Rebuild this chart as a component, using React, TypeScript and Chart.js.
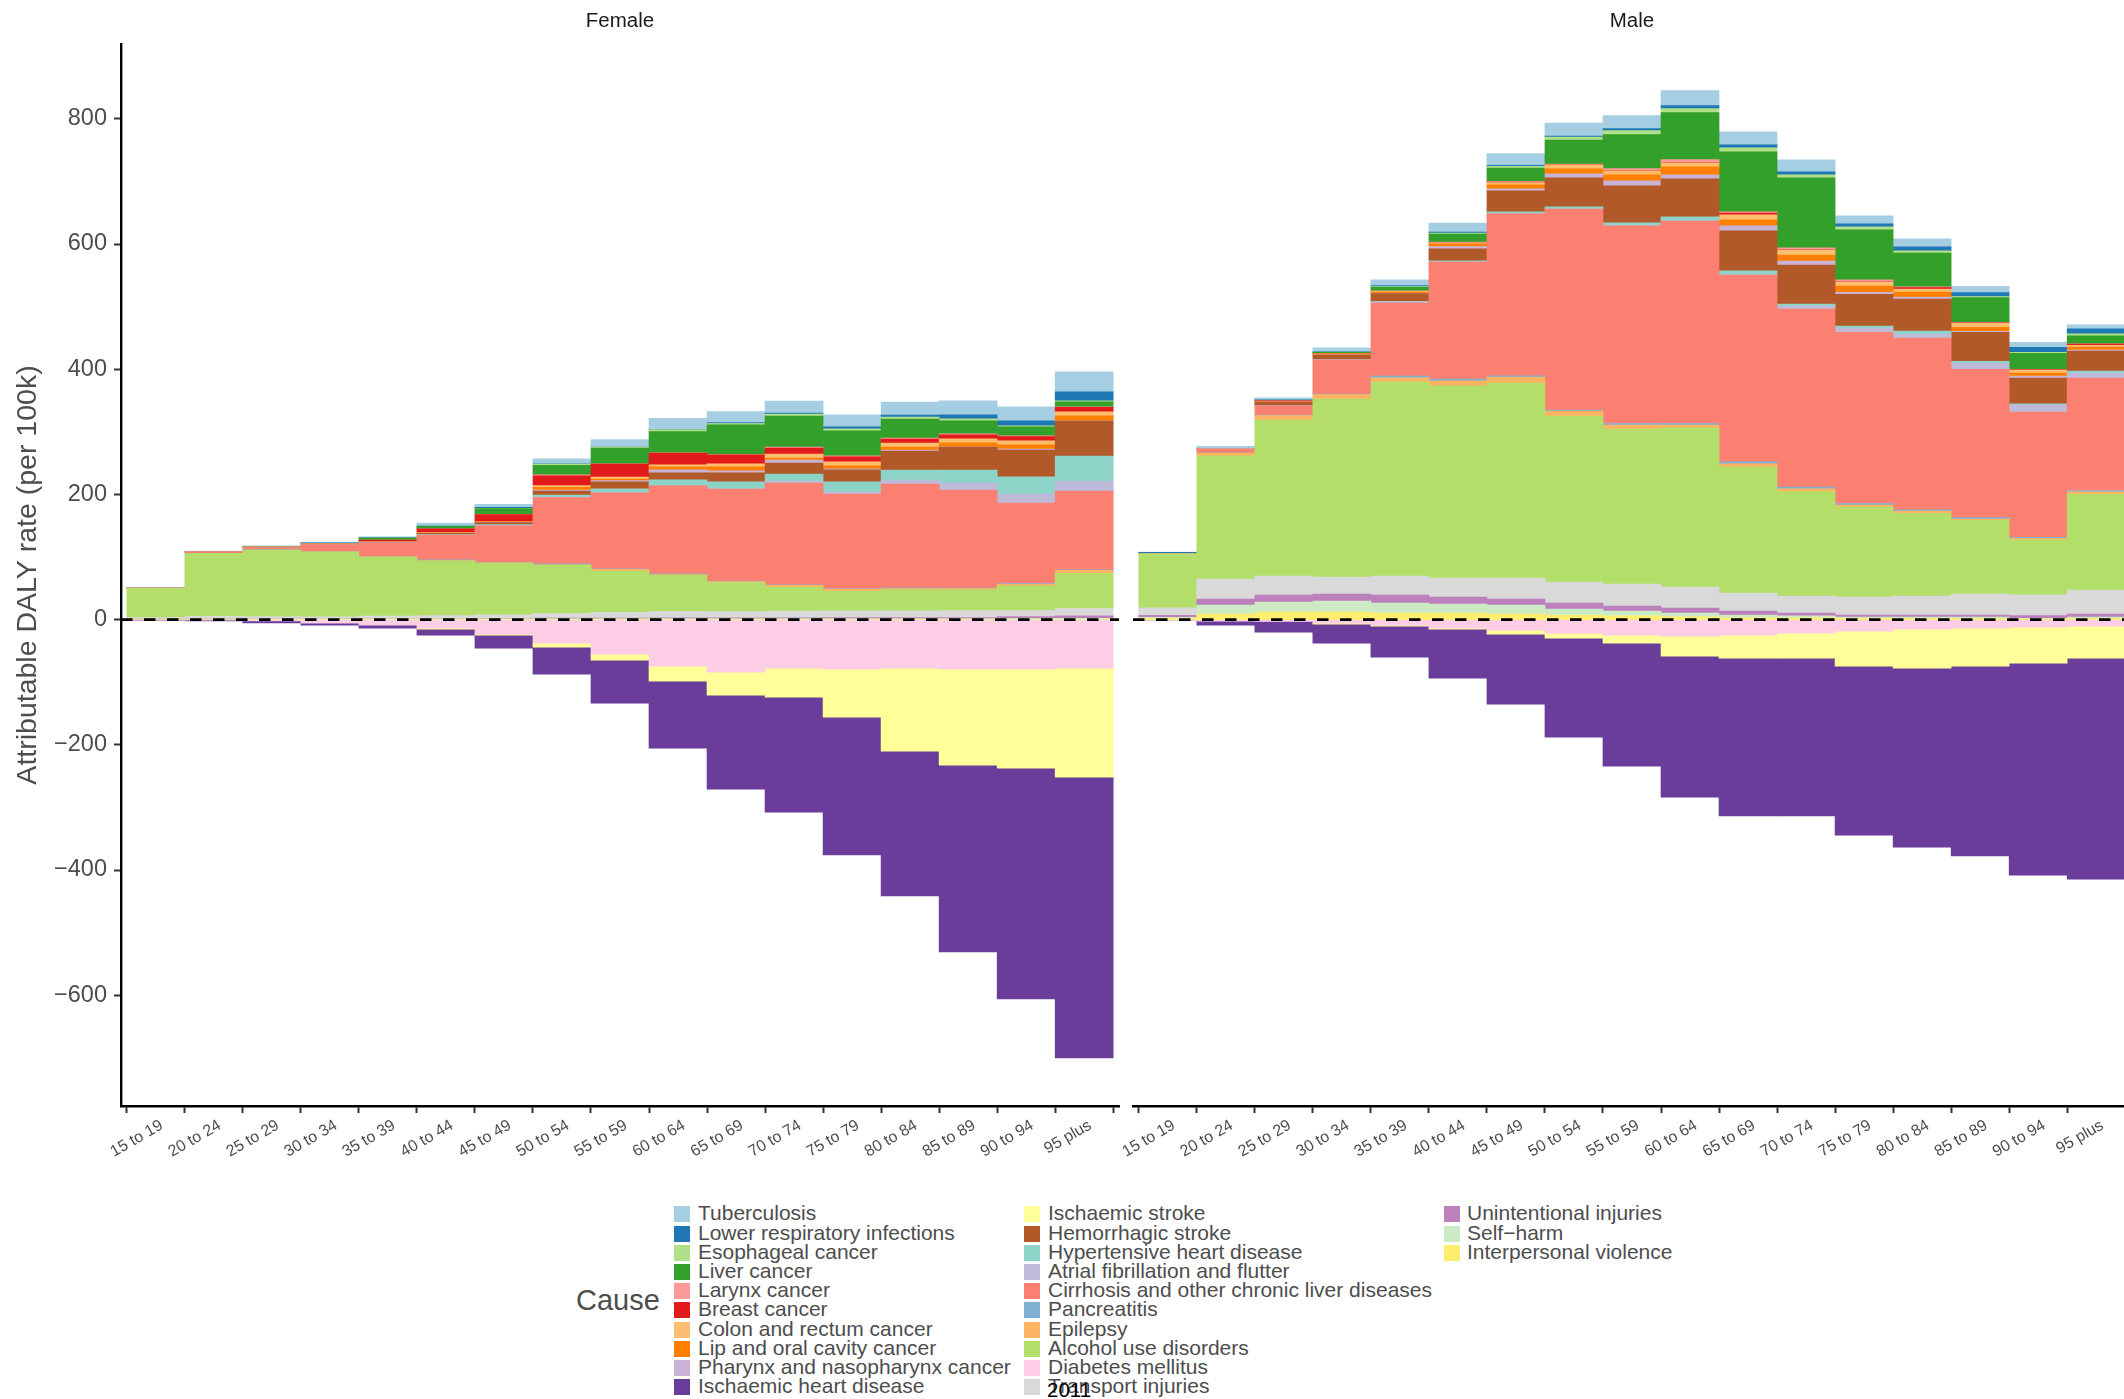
import React, { useEffect, useRef } from "react";
import { Chart, registerables } from "chart.js";

Chart.register(...registerables);

const FONT = "'Liberation Sans', Arial, Helvetica, sans-serif";

const ageGroups = [
  "15 to 19", "20 to 24", "25 to 29", "30 to 34", "35 to 39", "40 to 44", "45 to 49", "50 to 54",
  "55 to 59", "60 to 64", "65 to 69", "70 to 74", "75 to 79", "80 to 84", "85 to 89", "90 to 94", "95 plus",
];

const causes = [
  "Tuberculosis", "Lower respiratory infections", "Esophageal cancer", "Liver cancer", "Larynx cancer",
  "Breast cancer", "Colon and rectum cancer", "Lip and oral cavity cancer", "Pharynx and nasopharynx cancer",
  "Ischaemic heart disease", "Ischaemic stroke", "Hemorrhagic stroke", "Hypertensive heart disease",
  "Atrial fibrillation and flutter", "Cirrhosis and other chronic liver diseases", "Pancreatitis", "Epilepsy",
  "Alcohol use disorders", "Diabetes mellitus", "Transport injuries", "Unintentional injuries", "Self\u2212harm",
  "Interpersonal violence",
];

const causeColors = [
  "#A6CEE3", "#1F78B4", "#B2DF8A", "#33A02C", "#FB9A99", "#E31A1C", "#FDBF6F", "#FF7F00", "#CAB2D6",
  "#6A3D9A", "#FFFF99", "#B15928", "#8DD3C7", "#BEBADA", "#FB8072", "#80B1D3", "#FDB462", "#B3DE69",
  "#FCCDE5", "#D9D9D9", "#BC80BD", "#CCEBC5", "#FFED6F",
];

const yTickValues = [-600, -400, -200, 0, 200, 400, 600, 800];
const yRange = [-777, 919.5];

// ---------------- Female ----------------
const femaleTuberculosis = [0.8, 0.5, 1, 1.5, 1.5, 4.3, 4.8, 8, 11.7, 17.5, 17.6, 19.2, 19.2, 20.8, 22.4, 22.4, 32];
const femaleLowerRespiratory = [0, 0.2, 0.3, 0.5, 0.5, 0.5, 1.6, 0.3, 0.3, 0.5, 1.6, 1.6, 3.2, 3.2, 6.4, 8, 14.4];
const femaleEsophageal = [0, 0, 0, 0, 0, 0.3, 0.5, 2, 1.5, 3, 2, 3.2, 3.2, 3.2, 3.2, 1.6, 1.6];
const femaleLiverCancer = [0, 0, 0.2, 0.5, 3.2, 3.7, 9, 15.4, 25, 33.8, 47.5, 49.5, 40, 30.3, 20.8, 14.4, 8];
const femaleLarynx = [0, 0, 0, 0, 0, 0.3, 0.5, 1.6, 0.5, 0.5, 0.5, 1.6, 1.6, 1.6, 1.6, 1, 1];
const femaleBreast = [0, 0, 0.2, 0.5, 3.2, 6, 11.2, 15.5, 20.8, 19, 14.3, 9.6, 8, 6.4, 6.4, 7, 7];
const femaleColon = [0, 0, 0, 0, 0, 0.3, 0.5, 2.7, 3, 3.2, 4.8, 6.4, 6.4, 6.4, 6.4, 6.4, 6.4];
const femaleLipOral = [0, 0, 0, 0, 0, 0.3, 0.5, 4.3, 2.7, 4.8, 6.4, 3.2, 4.8, 4.8, 6.4, 6.4, 8];
const femalePharynx = [0, 0, 0, 0, 0, 0.3, 0.5, 1.6, 2, 4.8, 3.2, 4.8, 1.6, 1.6, 0.3, 1.6, 0.5];
const femaleIHD = [-1.2, -1.8, -3.2, -3.3, -4.8, -9.6, -20.7, -43.1, -68.7, -107, -150.1, -183.7, -220.4, -231.6, -298.6, -368.9, -448.4];
const femaleIschaemicStroke = [0, 0, 0, 0, 0, -1.6, -1.6, -6.4, -9.6, -23.9, -36.8, -46.3, -76.6, -132.5, -153.3, -158.1, -174.1];
const femaleHemorrhagic = [0, 0.3, 1.5, 1, 1, 2, 3.2, 6.4, 11, 11.2, 14.4, 17.6, 19.2, 30.3, 36.7, 43.1, 55.9];
const femaleHypertensive = [0, 0, 0, 0, 0.3, 1, 1.5, 3.7, 6, 9, 11.2, 11.2, 16, 16, 20.8, 27.2, 40.4];
const femaleAtrialFib = [0, 0, 0, 0, 0, 0, 0.5, 0.3, 0.3, 0.5, 0.5, 3.2, 3.2, 6.4, 11.2, 14.4, 15.5];
const femaleCirrhosis = [0.5, 2.5, 3.5, 11.2, 22.1, 39.7, 58.3, 106.1, 121.4, 140.3, 146.8, 162.3, 151.4, 165.8, 156.4, 128.6, 125.5];
const femalePancreatitis = [0.2, 0.3, 0.3, 0.5, 0.5, 1, 0.8, 1.5, 0.8, 1.5, 0.8, 0.8, 0.8, 1, 0.8, 1.2, 1];
const femaleEpilepsy = [0, 0, 0, 0, 0.3, 0.3, 0.5, 0.5, 3, 0.8, 1.5, 3, 3, 2, 2, 2.5, 5];
const femaleAlcoholUse = [46.5, 100.5, 106.3, 103.7, 94.2, 87.7, 82.6, 77.2, 65.9, 57.7, 46.5, 38.1, 31.4, 33.4, 33.2, 39.6, 56];
const femaleDiabetes = [-0.3, -0.5, -2, -5.5, -8.8, -13.6, -23.2, -37.5, -55.1, -74.3, -83.8, -77.5, -79.1, -77.5, -79.1, -79.1, -77.5];
const femaleTransport = [2, 3.5, 3, 3, 4, 4.5, 5.5, 7.5, 9, 10.5, 10, 11, 11, 11, 11, 9.5, 11.5];
const femaleUnintentional = [0.3, 0.3, 0.3, 0.3, 0.3, 0.5, 0.8, 1, 1.2, 1.5, 1.5, 1.5, 1.8, 1.8, 2, 3.2, 4.2];
const femaleSelfHarm = [0.5, 0.8, 0.8, 0.7, 0.7, 0.7, 0.7, 0.7, 0.7, 0.7, 0.7, 0.7, 0.7, 0.8, 0.8, 1, 1.2];
const femaleInterpersonal = [0.5, 0.6, 0.6, 0.6, 0.6, 0.6, 0.6, 0.6, 0.6, 0.6, 0.6, 0.6, 0.6, 0.6, 0.6, 0.7, 0.8];

// ---------------- Male ----------------
const maleTuberculosis = [0.5, 3.2, 2.7, 6, 9.1, 14.4, 18.6, 20.7, 20.8, 24, 20.7, 19.2, 12.8, 12.8, 9.6, 8, 6.4];
const maleLowerRespiratory = [1.6, 0.5, 1, 1, 1.6, 1.6, 1.6, 1.6, 3.2, 4.8, 4.8, 4.8, 4.8, 6.4, 6.4, 8, 8];
const maleEsophageal = [0, 0, 0.3, 0.5, 1, 1.6, 2.7, 4.8, 6.4, 6.4, 6.4, 4.8, 4.8, 3.2, 1.6, 1.6, 3.2];
const maleLiverCancer = [0, 0.2, 0.5, 1.6, 5.8, 12.8, 21.3, 38.3, 54.3, 75.1, 95.8, 111.8, 79.9, 54.3, 39.9, 25.6, 12.8];
const maleLarynx = [0, 0, 0.5, 0.3, 0.5, 1.6, 1, 0.8, 3.2, 4.8, 2.1, 3.2, 3.2, 1, 0.8, 0.5, 0.5];
const maleBreast = [0, 0, 1.5, 0.2, 0.3, 0.3, 1, 0.3, 0.3, 0.3, 2.7, 0.5, 0.5, 2.5, 0.5, 0.5, 2.1];
const maleColon = [0, 0, 0.2, 0.3, 1, 1, 3.7, 6.4, 6.4, 6.4, 8, 8, 6.4, 4.8, 6.4, 4.8, 2.7];
const maleLipOral = [0, 0, 0.3, 1.5, 2, 4.3, 6.4, 8, 9.6, 12.8, 9.6, 9.6, 9.6, 8, 6.4, 4.8, 4.8];
const malePharynx = [0, 0, 0.2, 0.5, 0.5, 3.7, 3.2, 6.4, 8, 6.4, 8, 6.4, 3.2, 3.2, 1.6, 3.2, 1.6];
const maleIHD = [-0.5, -6.4, -17, -30.3, -49.5, -78.2, -111.8, -158.2, -196.5, -225.2, -252.3, -252.3, -269.9, -285.9, -303.4, -338.6, -353];
const maleIschaemicStroke = [0, 0, 0, -1.6, -1.6, -1.6, -6.4, -7.9, -12.7, -31.9, -36.7, -39.9, -55.9, -62.3, -60.7, -57.5, -51.1];
const maleHemorrhagic = [0, 0, 5.3, 6.9, 12.7, 19.2, 33.5, 46.3, 59.1, 60.7, 63.9, 62.3, 51.1, 51.1, 46.3, 41.5, 32];
const maleHypertensive = [0, 0, 0.3, 0.5, 0.5, 1.6, 2.7, 3.2, 4.3, 6.4, 6.4, 3.2, 3.2, 4.8, 3.2, 1.6, 3.2];
const maleAtrialFib = [0, 0, 0, 0, 2.1, 0.5, 0.5, 0.5, 0.5, 0.5, 0.5, 4.8, 6.4, 6.4, 9.6, 11.2, 8];
const maleCirrhosis = [0.5, 6.3, 14.9, 54.9, 116.6, 186.9, 258.7, 321.1, 315.7, 323.2, 298.1, 284.3, 273.6, 274.2, 236.9, 200.1, 179.4];
const malePancreatitis = [0, 0.5, 0.5, 0.5, 2.6, 2.6, 2.1, 1.6, 2.6, 2.6, 3.2, 2.6, 2.6, 2.1, 2.6, 1.6, 2.1];
const maleEpilepsy = [0, 4.3, 7.4, 7.4, 6.4, 8, 9.6, 8, 6.4, 4.3, 5.3, 4.3, 3.2, 3.7, 2, 2.7, 3.7];
const maleAlcoholUse = [86.8, 197, 249.2, 284.3, 310.4, 307.2, 311.4, 265.1, 247.6, 254.4, 201.3, 167.2, 143.7, 132.1, 117.7, 87.9, 153.4];
const maleDiabetes = [0, -2.4, -3, -5.6, -8.8, -13.6, -16.8, -21.6, -24.8, -26.4, -24.8, -21.6, -18.4, -15.2, -13.6, -12, -10.4];
const maleTransport = [11.7, 31.9, 30.4, 27.2, 30.4, 30.3, 33.5, 33.5, 35.1, 33.6, 28.7, 27.1, 28.8, 30.3, 33.5, 33, 38.3];
const maleUnintentional = [3.2, 9.6, 11.1, 11.1, 12.7, 11.2, 9.6, 9.6, 8, 8, 6.4, 4.3, 3.2, 3.2, 3.2, 4.3, 4.8];
const maleSelfHarm = [1.5, 14.4, 16, 17.6, 16, 14.4, 14.4, 9.6, 7.5, 5.9, 4.3, 3.2, 2.1, 2.5, 2.5, 1.2, 2.5];
const maleInterpersonal = [2, 8.8, 12, 12, 10.4, 10.4, 8.8, 7.2, 6.1, 4.5, 2.9, 2.9, 1.9, 1.5, 1.5, 0.9, 1.5];

const femaleSeries = [
  femaleTuberculosis, femaleLowerRespiratory, femaleEsophageal, femaleLiverCancer, femaleLarynx, femaleBreast,
  femaleColon, femaleLipOral, femalePharynx, femaleIHD, femaleIschaemicStroke, femaleHemorrhagic,
  femaleHypertensive, femaleAtrialFib, femaleCirrhosis, femalePancreatitis, femaleEpilepsy, femaleAlcoholUse,
  femaleDiabetes, femaleTransport, femaleUnintentional, femaleSelfHarm, femaleInterpersonal,
];
const maleSeries = [
  maleTuberculosis, maleLowerRespiratory, maleEsophageal, maleLiverCancer, maleLarynx, maleBreast,
  maleColon, maleLipOral, malePharynx, maleIHD, maleIschaemicStroke, maleHemorrhagic,
  maleHypertensive, maleAtrialFib, maleCirrhosis, malePancreatitis, maleEpilepsy, maleAlcoholUse,
  maleDiabetes, maleTransport, maleUnintentional, maleSelfHarm, maleInterpersonal,
];

const zeroLinePlugin = {
  id: "zeroLine",
  afterDatasetsDraw(chart: any) {
    const { ctx, chartArea, scales } = chart;
    const y = scales.y.getPixelForValue(0);
    ctx.save();
    ctx.strokeStyle = "#000000";
    ctx.lineWidth = 2.8;
    ctx.setLineDash([11.5, 11.5]);
    ctx.beginPath();
    ctx.moveTo(chartArea.left, y);
    ctx.lineTo(chartArea.right, y);
    ctx.stroke();
    ctx.restore();
  },
};

function buildConfig(series: number[][], showY: boolean, padLeft: number): any {
  const datasets = causes
    .map((name, ci) => ({
      label: name,
      data: series[ci].map((v, i) => ({ x: i, y: v })),
      backgroundColor: causeColors[ci],
      borderWidth: 0,
      barPercentage: 1,
      categoryPercentage: 1,
    }))
    .reverse();
  return {
    type: "bar",
    data: { datasets },
    plugins: [zeroLinePlugin],
    options: {
      animation: false,
      responsive: false,
      maintainAspectRatio: false,
      events: [],
      layout: { padding: { left: padLeft, top: 44, right: 6, bottom: 0 } },
      plugins: { legend: { display: false }, tooltip: { enabled: false }, title: { display: false } },
      scales: {
        x: {
          type: "linear",
          stacked: true,
          min: -0.6,
          max: 16.6,
          offset: false,
          afterFit: (s: any) => {
            s.height = 94;
          },
          ticks: {
            stepSize: 1,
            includeBounds: false,
            autoSkip: false,
            maxRotation: 30,
            minRotation: 30,
            padding: 3,
            labelOffset: 6,
            color: "#4d4d4d",
            font: { family: FONT, size: 16 },
            callback: (v: any) => ageGroups[v] ?? "",
          },
          grid: {
            drawOnChartArea: false,
            drawTicks: true,
            tickLength: 7,
            tickWidth: 2,
            tickColor: "#333333",
          },
          border: { display: true, color: "#000000", width: 2.4 },
        },
        y: {
          type: "linear",
          stacked: true,
          display: showY,
          min: yRange[0],
          max: yRange[1],
          afterFit: (s: any) => {
            if (showY) s.width = 121;
          },
          afterBuildTicks: (s: any) => {
            s.ticks = yTickValues.map((v) => ({ value: v }));
          },
          ticks: {
            padding: 7,
            color: "#4d4d4d",
            font: { family: FONT, size: 23.5 },
            callback: (v: any) => (v < 0 ? "\u2212" + Math.abs(v) : String(v)),
          },
          title: {
            display: showY,
            text: "Attributable DALY rate (per 100k)",
            color: "#4d4d4d",
            font: { family: FONT, size: 28.5 },
            padding: { top: 11, bottom: 0 },
          },
          grid: {
            drawOnChartArea: false,
            drawTicks: true,
            tickLength: 7,
            tickWidth: 2,
            tickColor: "#333333",
          },
          border: { display: showY, color: "#000000", width: 2.4 },
        },
      },
    },
  };
}

function Panel(props: { series: number[][]; showY: boolean; left: number; width: number; padLeft: number }) {
  const ref = useRef<HTMLCanvasElement | null>(null);
  useEffect(() => {
    if (!ref.current) return;
    const chart = new Chart(ref.current, buildConfig(props.series, props.showY, props.padLeft));
    return () => chart.destroy();
  }, []);
  return (
    <div style={{ position: "absolute", left: props.left, top: 0, width: props.width, height: 1200 }}>
      <canvas ref={ref} width={props.width} height={1200} style={{ width: props.width, height: 1200, display: "block" }} />
    </div>
  );
}

const legendColumns = [causes.slice(0, 10), causes.slice(10, 20), causes.slice(20)];
const legendSwatchX = [674, 1024, 1444];
const legendTextX = [698, 1048, 1467];

export default function App() {
  return (
    <div
      style={{
        position: "absolute",
        left: 0,
        top: 0,
        width: 2124,
        height: 1399,
        overflow: "hidden",
        background: "#ffffff",
        fontFamily: FONT,
      }}
    >
      <Panel series={femaleSeries} showY={true} left={0} width={1125} padLeft={0} />
      <Panel series={maleSeries} showY={false} left={1050} width={1087} padLeft={83} />

      <div style={{ position: "absolute", left: 520, width: 200, top: 8, textAlign: "center", fontSize: 20.5, lineHeight: "24px", color: "#1a1a1a" }}>
        Female
      </div>
      <div style={{ position: "absolute", left: 1532, width: 200, top: 8, textAlign: "center", fontSize: 20.5, lineHeight: "24px", color: "#1a1a1a" }}>
        Male
      </div>

      <div style={{ position: "absolute", left: 576, top: 1286, fontSize: 29, lineHeight: "29px", color: "#4d4d4d", whiteSpace: "nowrap" }}>
        Cause
      </div>

      {legendColumns.map((col, c) =>
        col.map((name, r) => {
          const ci = c * 10 + r;
          const top = 1206.3 + 19.2 * r;
          return (
            <React.Fragment key={name}>
              <div
                style={{
                  position: "absolute",
                  left: legendSwatchX[c],
                  top,
                  width: 16,
                  height: 16,
                  background: causeColors[ci],
                }}
              />
              <div
                style={{
                  position: "absolute",
                  left: legendTextX[c],
                  top: top - 1,
                  fontSize: 21,
                  lineHeight: "16px",
                  color: "#4d4d4d",
                  whiteSpace: "nowrap",
                }}
              >
                {name}
              </div>
            </React.Fragment>
          );
        })
      )}

      <div style={{ position: "absolute", left: 1047, top: 1380, fontSize: 20.5, lineHeight: "20px", color: "#000000", whiteSpace: "nowrap" }}>
        2011
      </div>
    </div>
  );
}
